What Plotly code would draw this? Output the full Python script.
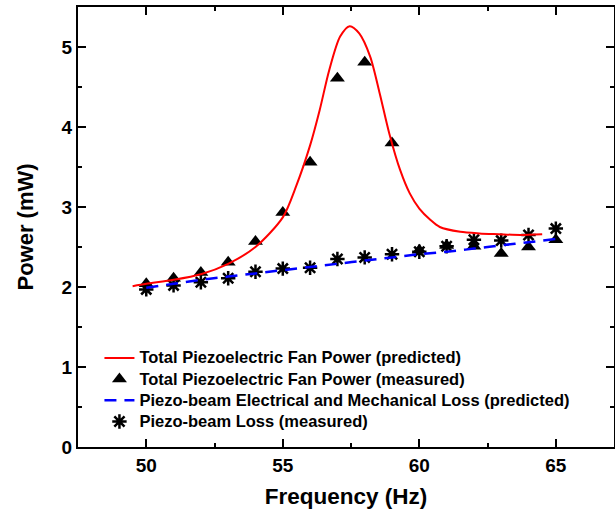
import plotly.graph_objects as go

# Predicted total piezoelectric fan power (red curve)
freq_pred = [49.5, 50, 51, 52, 53, 54, 55, 55.5, 56, 56.35, 56.7, 57.1, 57.45, 57.8,
             58.2, 58.55, 58.9, 59.3, 59.65, 60, 60.4, 60.75, 61.5, 62.2, 62.9, 63.7, 64.5]
power_pred = [2.01, 2.04, 2.09, 2.16, 2.29, 2.50, 2.87, 3.27, 3.77, 4.21, 4.71, 5.13, 5.26, 5.17,
              4.88, 4.42, 3.92, 3.46, 3.17, 2.98, 2.84, 2.75, 2.69, 2.67, 2.66, 2.65, 2.66]

# Measured points
freq_meas = [50, 51, 52, 53, 54, 55, 56, 57, 58, 59, 60, 61, 62, 63, 64, 65]
power_meas = [2.04, 2.11, 2.18, 2.31, 2.57, 2.93, 3.56, 4.61, 4.81, 3.80,
              2.46, 2.52, 2.51, 2.42, 2.50, 2.59]
loss_meas = [1.97, 2.02, 2.06, 2.11, 2.19, 2.23, 2.24, 2.35, 2.37, 2.41,
             2.44, 2.51, 2.59, 2.58, 2.65, 2.73]

# Predicted loss (blue dashed)
freq_loss_pred = [50, 51, 52, 53, 54, 55, 56, 57, 58, 59, 60, 61, 62, 63, 64, 65]
loss_pred = [1.99, 2.04, 2.09, 2.13, 2.17, 2.21, 2.25, 2.29, 2.33, 2.37,
             2.41, 2.44, 2.48, 2.52, 2.56, 2.60]

names = ["Total Piezoelectric Fan Power (predicted)",
         "Total Piezoelectric Fan Power (measured)",
         "Piezo-beam Electrical and Mechanical Loss (predicted)",
         "Piezo-beam Loss (measured)"]

FONT = "Liberation Sans, Arial, sans-serif"


def leg(s):
    return "<span style='font-size:16.5px'>" + s + "</span>"


fig = go.Figure()
fig.add_trace(go.Scatter(x=freq_meas, y=power_meas, mode="markers", name=leg(names[1]),
                         legendrank=2,
                         marker=dict(symbol="triangle-up", size=13, color="black")))
fig.add_trace(go.Scatter(x=freq_meas, y=loss_meas, mode="markers", name=leg(names[3]),
                         legendrank=4,
                         marker=dict(symbol="asterisk-open", size=12, color="black",
                                     line=dict(color="black", width=2.5))))
fig.add_trace(go.Scatter(x=freq_pred, y=power_pred, mode="lines", name=leg(names[0]),
                         legendrank=1,
                         line=dict(color="#ff0000", width=2, shape="spline", smoothing=0.8)))
fig.add_trace(go.Scatter(x=freq_loss_pred, y=loss_pred, mode="lines", name=leg(names[2]),
                         legendrank=3,
                         line=dict(color="#0000ff", width=2.5, dash="12px,8px", shape="spline")))

tick_font = dict(family=FONT, size=19, color="black", weight="bold")
fig.update_layout(
    width=615, height=520,
    margin=dict(l=78, r=1, t=7, b=73, autoexpand=False),
    paper_bgcolor="white", plot_bgcolor="white",
    font=dict(family=FONT, color="black"),
    showlegend=True,
    legend=dict(x=0.04, y=0.238, xanchor="left", yanchor="top",
                bgcolor="rgba(0,0,0,0)", itemwidth=30, tracegroupgap=0,
                font=dict(size=14, family=FONT, weight="bold")),
    xaxis=dict(range=[47.5, 67.13], tickvals=[50, 55, 60, 65],
               ticks="inside", ticklen=8, tickwidth=1.5, tickcolor="black",
               minor=dict(dtick=2.5, tick0=0, ticks="inside", ticklen=4, tickwidth=1.5, tickcolor="black"),
               showline=True, linecolor="black", linewidth=2, mirror="allticks",
               showgrid=False, zeroline=False,
               tickfont=tick_font,
               title=dict(text="<b>Frequency (Hz)</b>", font=dict(size=22.5, family=FONT), standoff=13)),
    yaxis=dict(range=[0, 5.5], tickvals=[0, 1, 2, 3, 4, 5],
               ticks="inside", ticklen=8, tickwidth=1.5, tickcolor="black",
               minor=dict(dtick=0.5, tick0=0, ticks="inside", ticklen=4, tickwidth=1.5, tickcolor="black"),
               showline=True, linecolor="black", linewidth=2, mirror="allticks",
               showgrid=False, zeroline=False,
               tickfont=tick_font,
               title=dict(text="<b>Power (mW)</b>", font=dict(size=22, family=FONT), standoff=22)),
)

fig.write_html("out.html", config={"displayModeBar": False},
               post_script="document.body.style.margin='0';")
